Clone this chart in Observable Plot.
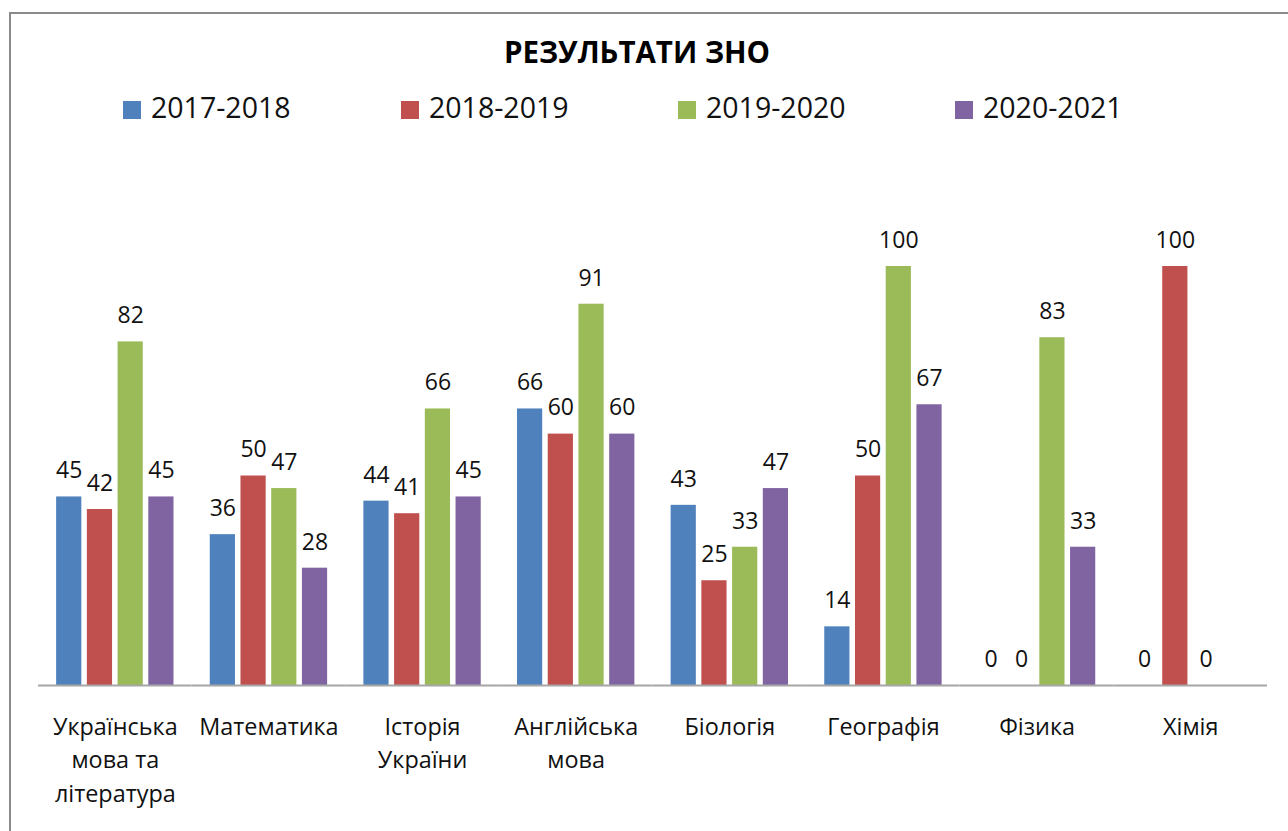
<!DOCTYPE html>
<html>
<head>
<meta charset="utf-8">
<script src="https://cdn.jsdelivr.net/npm/d3@7"></script>
<script src="https://cdn.jsdelivr.net/npm/@observablehq/plot@0.6"></script>
<style>
  html, body { margin: 0; padding: 0; background: #fff; }
  body { width: 1288px; height: 831px; position: relative; overflow: hidden; font-family: "Open Sans", sans-serif; }
  #frame { position: absolute; left: 9px; top: 12px; width: 1320px; height: 900px; border: 2px solid #8a8a8a; box-sizing: border-box; }
  #title { position: relative; height: 80px; box-sizing: border-box; padding-top: 32px; padding-right: 14px; line-height: 40px; text-align: center; font-weight: bold; font-size: 29.5px; color: #000; }
  #legend { position: relative; height: 60px; }
  .item { position: absolute; top: 12px; height: 30px; line-height: 30px; font-size: 28.5px; color: #111; white-space: nowrap; }
  .sw { display: inline-block; width: 18px; height: 18px; margin-right: 10px; vertical-align: -1px; }
  #chart { position: relative; }
</style>
</head>
<body>
<div id="frame"></div>
<div id="title">РЕЗУЛЬТАТИ ЗНО</div>
<div id="legend"></div>
<div id="chart"></div>
<script>
const categories = ["Українська мова та література", "Математика", "Історія України", "Англійська мова", "Біологія", "Географія", "Фізика", "Хімія"];
const tickLabels = ["Українська\nмова та\nлітература", "Математика", "Історія\nУкраїни", "Англійська\nмова", "Біологія", "Географія", "Фізика", "Хімія"];
const series = ["2017-2018", "2018-2019", "2019-2020", "2020-2021"];
const v2017_2018 = [45, 36, 44, 66, 43, 14, 0, 0];
const v2018_2019 = [42, 50, 41, 60, 25, 50, 0, 100];
const v2019_2020 = [82, 47, 66, 91, 33, 100, 83, 0];
const v2020_2021 = [45, 28, 45, 60, 47, 67, 33, null];
const colors = ["#4f81bd", "#c0504d", "#9bbb59", "#8064a2"];

const seriesValues = [v2017_2018, v2018_2019, v2019_2020, v2020_2021];
const data = [];
categories.forEach((c, i) => {
  series.forEach((s, j) => {
    const v = seriesValues[j][i];
    if (v != null) data.push({category: c, series: s, value: v});
  });
});
const labelOf = new Map(categories.map((c, i) => [c, tickLabels[i]]));

// legend
const legendPos = [123, 401, 678, 955];
const legend = document.getElementById("legend");
series.forEach((s, j) => {
  const it = document.createElement("div");
  it.className = "item";
  it.style.left = legendPos[j] + "px";
  it.innerHTML = `<span class="sw" style="background:${colors[j]}"></span>${s}`;
  legend.appendChild(it);
});

const chart = Plot.plot({
  width: 1288,
  height: 691,
  marginLeft: 38,
  marginRight: 21,
  marginTop: 126,
  marginBottom: 146,
  style: {fontFamily: "Open Sans", color: "#111", background: "transparent"},
  fx: {domain: categories, padding: 0, round: false, label: null},
  x: {domain: series, paddingInner: 0.18, paddingOuter: 0.59, round: false, axis: null},
  y: {domain: [0, 100], axis: null},
  color: {domain: series, range: colors},
  marks: [
    Plot.barY(data, {fx: "category", x: "series", y: "value", fill: "series"}),
    Plot.ruleY([0], {stroke: "#a6a6a6", strokeWidth: 2}),
    Plot.text(data, {fx: "category", x: "series", y: "value", text: d => String(d.value), dy: -26, fontSize: 23, fill: "#111"}),
    Plot.axisFx({anchor: "bottom", tickSize: 0, tickPadding: 26, fontSize: 23.4, lineHeight: 1.42, tickFormat: d => labelOf.get(d), label: null, fill: "#111"})
  ]
});
document.getElementById("chart").appendChild(chart);
</script>
</body>
</html>
